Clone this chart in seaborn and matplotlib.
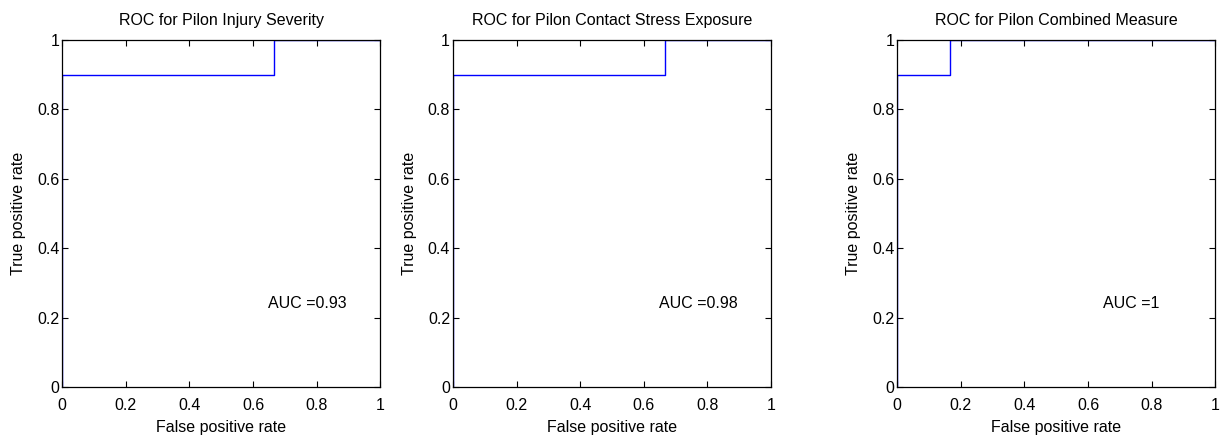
import matplotlib
matplotlib.use("Agg")
import matplotlib.pyplot as plt
import seaborn as sns
import pandas as pd

titles = ["ROC for Pilon Injury Severity",
          "ROC for Pilon Contact Stress Exposure",
          "ROC for Pilon Combined Measure"]
fpr = [[0, 0, 0.667, 0.667, 1],
       [0, 0, 0.667, 0.667, 1],
       [0, 0, 0.167, 0.167, 1]]
tpr = [[0, 0.9, 0.9, 1, 1],
       [0, 0.9, 0.9, 1, 1],
       [0, 0.9, 0.9, 1, 1]]
auc_labels = ["AUC =0.93", "AUC =0.98", "AUC =1"]
ticks = [0, 0.2, 0.4, 0.6, 0.8, 1]
tick_labels = ["0", "0.2", "0.4", "0.6", "0.8", "1"]

sns.set_theme(style="white")
plt.rcParams['font.family'] = ['Liberation Sans', 'DejaVu Sans']
plt.rcParams['text.color'] = 'black'
plt.rcParams['axes.labelcolor'] = 'black'
plt.rcParams['axes.titlecolor'] = 'black'

fs = 11.5
fig = plt.figure(figsize=(12.24, 4.38), dpi=100)
lefts = [0.0507, 0.370, 0.733]
for i in range(3):
    ax = fig.add_axes([lefts[i], 0.1164, 0.26, 0.7922])
    df = pd.DataFrame({"fpr": fpr[i], "tpr": tpr[i]})
    sns.lineplot(data=df, x="fpr", y="tpr", sort=False, estimator=None,
                 color="#0000ff", linewidth=1.0, ax=ax)
    ax.set_xlim(0, 1)
    ax.set_ylim(0, 1)
    ax.set_xticks(ticks)
    ax.set_xticklabels(tick_labels)
    ax.set_yticks(ticks)
    ax.set_yticklabels(tick_labels)
    ax.tick_params(direction="in", length=4, width=0.8, top=True, right=True,
                   bottom=True, left=True, labelsize=fs, colors="black")
    ax.tick_params(axis="x", pad=8)
    ax.tick_params(axis="y", pad=2)
    for s in ax.spines.values():
        s.set_color("black")
        s.set_linewidth(0.9)
    ax.set_xlabel("False positive rate", fontsize=fs, labelpad=5)
    ax.set_ylabel("True positive rate", fontsize=fs, labelpad=8)
    ax.set_title(titles[i], fontsize=fs, pad=10.5, color="black")
    ax.text(0.648, 0.242, auc_labels[i], fontsize=fs, va="center", ha="left",
            color="black", transform=ax.transData)

fig.savefig("out.png", dpi=100, facecolor="white")
